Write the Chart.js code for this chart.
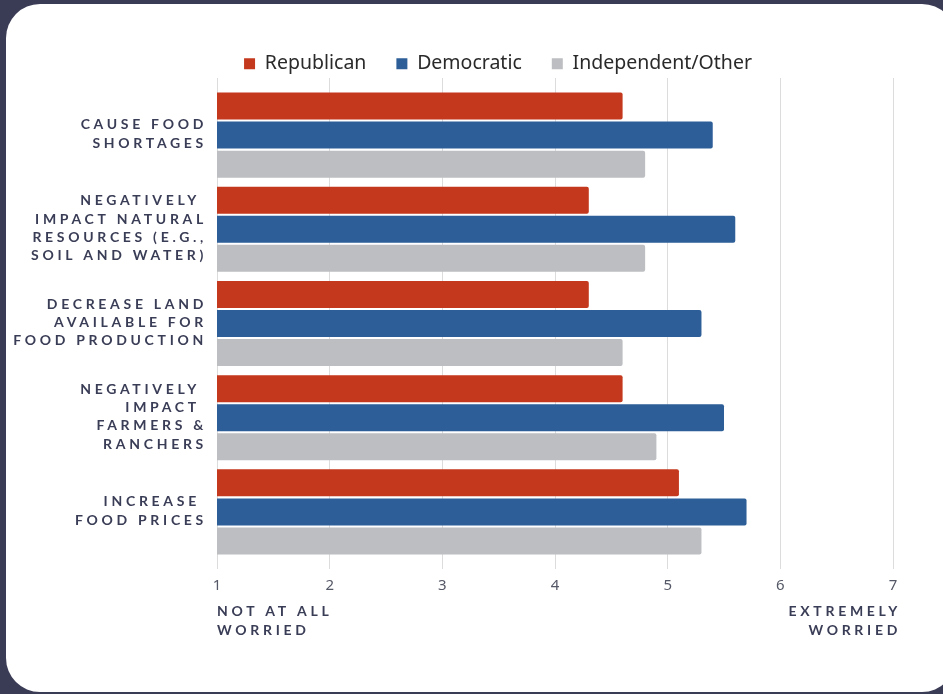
<!DOCTYPE html>
<html>
<head>
<meta charset="utf-8">
<script src="https://cdn.jsdelivr.net/npm/chart.js@4.4.1/dist/chart.umd.min.js"></script>
<style>
  html, body { margin: 0; padding: 0; background: #3a3b55; width: 943px; height: 694px; overflow: hidden; }
  #card { position: absolute; left: 6px; top: 4px; width: 950px; height: 688px; background: #fff; border-radius: 34px; }
  #chart { position: absolute; left: 0; top: 0; }
</style>
</head>
<body>
<div id="card"></div>
<canvas id="chart" width="943" height="694"></canvas>
<script>
// categories (multi-line, as on the original)
const categories = [
  ['CAUSE FOOD', 'SHORTAGES'],
  ['NEGATIVELY ', 'IMPACT NATURAL', 'RESOURCES (E.G.,', 'SOIL AND WATER)'],
  ['DECREASE LAND', 'AVAILABLE FOR', 'FOOD PRODUCTION'],
  ['NEGATIVELY ', 'IMPACT ', 'FARMERS &', 'RANCHERS'],
  ['INCREASE ', 'FOOD PRICES']
];
const republican  = [4.6, 4.3, 4.3, 4.6, 5.1];
const democratic  = [5.4, 5.6, 5.3, 5.5, 5.7];
const independent = [4.8, 4.8, 4.6, 4.9, 5.3];
const scaleTicks = [1, 2, 3, 4, 5, 6, 7];
const scaleEnds = [['NOT AT ALL', 'WORRIED'], ['EXTREMELY', 'WORRIED']];

const gridColor = '#dcdcdc';
const labelColor = '#3a3d56';
const labelFont = 'bold 14px Lato';

// spaced-out capital labels (canvas letterSpacing, chart.js ticks can't do it)
const spacedLabels = {
  id: 'spacedLabels',
  afterDraw(chart) {
    const ctx = chart.ctx;
    const x = chart.scales.x, y = chart.scales.y;
    ctx.save();
    ctx.font = labelFont;
    ctx.fillStyle = labelColor;
    ctx.letterSpacing = '3.7px';
    ctx.textBaseline = 'middle';
    ctx.textAlign = 'right';
    const lh = 18.4;
    chart.data.labels.forEach((lines, i) => {
      const cy = y.getPixelForValue(i);
      const top = cy - (lines.length - 1) * lh / 2 - 1;
      lines.forEach((t, k) => ctx.fillText(t, x.left - 10, top + k * lh));
    });
    const by = x.bottom + 8;
    ctx.textAlign = 'left';
    scaleEnds[0].forEach((t, k) => ctx.fillText(t, x.getPixelForValue(scaleTicks[0]), by + k * 19));
    ctx.textAlign = 'right';
    scaleEnds[1].forEach((t, k) => ctx.fillText(t, x.getPixelForValue(scaleTicks[scaleTicks.length - 1]) + 8, by + k * 19));
    ctx.restore();
  }
};

const ctx = document.getElementById('chart').getContext('2d');
new Chart(ctx, {
  type: 'bar',
  data: {
    labels: categories,
    datasets: [
      { label: 'Republican', data: republican, backgroundColor: '#c4391e' },
      { label: 'Democratic', data: democratic, backgroundColor: '#2d5e98' },
      { label: 'Independent/Other', data: independent, backgroundColor: '#bcbec1' }
    ]
  },
  options: {
    indexAxis: 'y',
    responsive: false,
    animation: false,
    devicePixelRatio: 1,
    categoryPercentage: 0.925,
    barPercentage: 0.93,
    borderRadius: 2,
    layout: { padding: { left: 103, right: 50, top: 24, bottom: 91 } },
    plugins: {
      legend: {
        position: 'top',
        maxHeight: 54,
        labels: {
          boxWidth: 11,
          boxHeight: 11,
          padding: 30,
          color: '#2a2a2a',
          font: { family: 'Noto Sans', size: 19.5 }
        }
      },
      tooltip: { enabled: false }
    },
    scales: {
      x: {
        type: 'linear',
        position: 'bottom',
        min: 1,
        max: 7,
        afterBuildTicks: s => { s.ticks = scaleTicks.map(v => ({ value: v })); },
        grid: { color: gridColor, tickLength: 10 },
        border: { display: false },
        ticks: { padding: 8, color: '#555866', font: { family: 'Noto Sans', size: 15 } }
      },
      x2: {
        type: 'linear',
        position: 'top',
        min: 1,
        max: 7,
        afterBuildTicks: s => { s.ticks = scaleTicks.map(v => ({ value: v })); },
        grid: { color: gridColor, tickLength: 10, drawOnChartArea: false },
        border: { display: false },
        ticks: { display: false }
      },
      y: {
        type: 'category',
        afterFit: s => { s.width = 114; },
        grid: { display: false },
        border: { display: false },
        ticks: { display: false }
      }
    }
  },
  plugins: [spacedLabels]
});
</script>
</body>
</html>
